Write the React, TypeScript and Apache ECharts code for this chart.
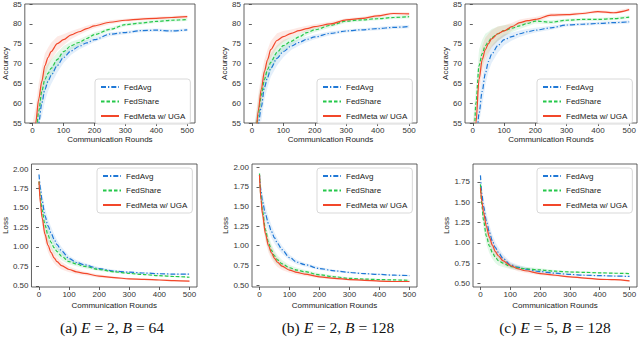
import React, { useEffect, useRef } from 'react';
import * as echarts from 'echarts';

const SERIES_NAMES = ['FedAvg', 'FedShare', 'FedMeta w/ UGA'];
const X_TICKS = [0, 100, 200, 300, 400, 500];
const ACC_TICKS = [55, 60, 65, 70, 75, 80, 85];
const LOSS_TICKS_AB = [0.5, 0.75, 1.0, 1.25, 1.5, 1.75, 2.0];
const LOSS_TICKS_C = [0.5, 0.75, 1.0, 1.25, 1.5, 1.75];
const CAPTIONS = [
  ['(a) ', 'E', ' = 2, ', 'B', ' = 64'],
  ['(b) ', 'E', ' = 2, ', 'B', ' = 128'],
  ['(c) ', 'E', ' = 5, ', 'B', ' = 128'],
];

// Rounds at which the curves were read
const X_ACC = [0, 10, 20, 30, 40, 50, 60, 80, 100, 125, 150, 175, 200, 250, 300, 350, 400, 450, 500];
const X_LOSS = [0, 5, 10, 20, 30, 40, 50, 60, 75, 100, 125, 150, 200, 250, 300, 350, 400, 450, 500];

// (a) E=2, B=64 accuracy
const ACC_A_AVG = [30, 47, 55, 60, 63.5, 65.5, 67, 69.5, 71.5, 73.2, 74.3, 75.2, 76, 77.4, 77.8, 78.3, 78.4, 78.2, 78.5];
const ACC_A_SHARE = [33, 51, 58, 63, 66, 67.5, 68.8, 71, 73, 74.5, 75.3, 76.3, 77.3, 78.6, 79.8, 80.2, 80.6, 80.9, 81.1];
const ACC_A_META = [35, 55, 61, 65.5, 69.5, 71.5, 73, 75, 76, 77.2, 78, 78.8, 79.5, 80.4, 80.9, 81.2, 81.4, 81.6, 81.8];
// (b) E=2, B=128 accuracy
const ACC_B_AVG = [28, 45, 54.5, 59, 64, 66.5, 68.8, 71.3, 73, 74.4, 75.3, 76.1, 76.7, 77.6, 78.2, 78.5, 78.8, 79.1, 79.3];
const ACC_B_SHARE = [30, 50, 57, 62, 66, 68.5, 70.3, 72.8, 74.5, 75.6, 76.7, 77.8, 78.5, 79.6, 80.7, 81, 81.3, 81.6, 81.8];
const ACC_B_META = [30, 48, 58, 63.5, 68, 71, 73.5, 75.8, 76.8, 77.6, 78.3, 78.8, 79.3, 80, 81, 81.4, 82, 82.6, 82.5];
// (c) E=5, B=128 accuracy
const ACC_C_AVG = [30, 48, 57.5, 63, 67.5, 70.5, 72.3, 74.5, 76, 76.8, 77.5, 78, 78.4, 79, 79.7, 79.9, 80.1, 80.3, 80.5];
const ACC_C_SHARE = [36, 60, 69.5, 72.5, 74.5, 75.5, 76.5, 77.5, 78.3, 78.9, 79.5, 80.1, 80.7, 80.4, 80.9, 81.1, 81.1, 81.3, 81.7];
const ACC_C_META = [32, 55, 66, 71, 73.5, 75, 76.2, 77.5, 78.2, 79.3, 80.3, 80.8, 81.1, 82.2, 82.3, 82.6, 83.1, 82.8, 83.6];

// (a) loss
const LOSS_A_AVG = [1.93, 1.75, 1.6, 1.4, 1.27, 1.18, 1.1, 1.03, 0.95, 0.85, 0.8, 0.77, 0.72, 0.69, 0.675, 0.665, 0.655, 0.65, 0.65];
const LOSS_A_SHARE = [1.84, 1.62, 1.48, 1.28, 1.15, 1.06, 0.99, 0.94, 0.88, 0.81, 0.78, 0.75, 0.71, 0.68, 0.66, 0.645, 0.63, 0.62, 0.61];
const LOSS_A_META = [1.84, 1.55, 1.38, 1.16, 1.02, 0.93, 0.86, 0.81, 0.76, 0.71, 0.68, 0.66, 0.625, 0.605, 0.59, 0.583, 0.575, 0.567, 0.56];
// (b) loss
const LOSS_B_AVG = [1.9, 1.7, 1.56, 1.4, 1.28, 1.18, 1.1, 1.03, 0.95, 0.85, 0.79, 0.76, 0.71, 0.68, 0.66, 0.645, 0.635, 0.625, 0.62];
const LOSS_B_SHARE = [1.92, 1.62, 1.44, 1.2, 1.04, 0.94, 0.87, 0.82, 0.77, 0.72, 0.69, 0.67, 0.63, 0.605, 0.585, 0.575, 0.57, 0.565, 0.56];
const LOSS_B_META = [1.9, 1.58, 1.4, 1.15, 1.0, 0.91, 0.84, 0.79, 0.74, 0.69, 0.66, 0.64, 0.605, 0.585, 0.57, 0.56, 0.55, 0.545, 0.545];
// (c) loss
const LOSS_C_AVG = [1.83, 1.6, 1.45, 1.27, 1.13, 1.02, 0.94, 0.88, 0.81, 0.73, 0.7, 0.675, 0.645, 0.625, 0.61, 0.6, 0.595, 0.59, 0.585];
const LOSS_C_SHARE = [1.72, 1.45, 1.28, 1.08, 0.96, 0.88, 0.82, 0.78, 0.75, 0.71, 0.69, 0.68, 0.665, 0.65, 0.64, 0.635, 0.63, 0.625, 0.62];
const LOSS_C_META = [1.68, 1.5, 1.38, 1.2, 1.07, 0.97, 0.89, 0.84, 0.78, 0.72, 0.68, 0.655, 0.62, 0.6, 0.58, 0.565, 0.55, 0.545, 0.53];

// half-width of the shaded spread around each curve
const ACC_SPREAD = [0, 4, 4, 3.5, 3, 2.5, 2.2, 1.8, 1.4, 1.0, 0.8, 0.7, 0.6, 0.5, 0.4, 0.4, 0.4, 0.4, 0.4];
const LOSS_SPREAD = [0.02, 0.08, 0.1, 0.1, 0.09, 0.08, 0.07, 0.06, 0.05, 0.035, 0.03, 0.025, 0.02, 0.015, 0.012, 0.01, 0.01, 0.01, 0.01];

const COLORS = ['#1f78d6', '#25c84a', '#f2472a'];
const DASHES: any[] = [[5, 2, 1.3, 2], [3.5, 2], 'solid'];
const FONT = 'Liberation Sans, Arial, sans-serif';

const GRIDS = [
  { left: 23, top: 3, width: 172, height: 120 },
  { left: 244, top: 3, width: 173, height: 120 },
  { left: 465, top: 3, width: 172, height: 120 },
  { left: 30, top: 164, width: 167, height: 123 },
  { left: 252, top: 164, width: 165, height: 123 },
  { left: 473, top: 164, width: 164, height: 123 },
];

const PANELS = [
  { x: X_ACC, ys: [ACC_A_AVG, ACC_A_SHARE, ACC_A_META], spread: ACC_SPREAD, min: 55, max: 85, ticks: ACC_TICKS, name: 'Accuracy', nameGap: 15, xNameGap: 12, legendTop: 79, acc: true },
  { x: X_ACC, ys: [ACC_B_AVG, ACC_B_SHARE, ACC_B_META], spread: ACC_SPREAD, min: 55, max: 85, ticks: ACC_TICKS, name: 'Accuracy', nameGap: 15, xNameGap: 12, legendTop: 79, acc: true },
  { x: X_ACC, ys: [ACC_C_AVG, ACC_C_SHARE, ACC_C_META], spread: ACC_SPREAD, min: 55, max: 85, ticks: ACC_TICKS, name: 'Accuracy', nameGap: 15, xNameGap: 12, legendTop: 79, acc: true },
  { x: X_LOSS, ys: [LOSS_A_AVG, LOSS_A_SHARE, LOSS_A_META], spread: LOSS_SPREAD, min: 0.485, max: 2.065, ticks: LOSS_TICKS_AB, name: 'Loss', nameGap: 21, xNameGap: 14, legendTop: 168, acc: false },
  { x: X_LOSS, ys: [LOSS_B_AVG, LOSS_B_SHARE, LOSS_B_META], spread: LOSS_SPREAD, min: 0.475, max: 2.04, ticks: LOSS_TICKS_AB, name: 'Loss', nameGap: 21, xNameGap: 14, legendTop: 168, acc: false },
  { x: X_LOSS, ys: [LOSS_C_AVG, LOSS_C_SHARE, LOSS_C_META], spread: LOSS_SPREAD, min: 0.455, max: 1.97, ticks: LOSS_TICKS_C, name: 'Loss', nameGap: 21, xNameGap: 14, legendTop: 168, acc: false },
];

function buildOption() {
  const grid: any[] = [];
  const xAxis: any[] = [];
  const yAxis: any[] = [];
  const series: any[] = [];
  const legend: any[] = [];
  const axisColor = '#3a3a3a';

  PANELS.forEach((p, i) => {
    const g = GRIDS[i];
    grid.push({ ...g, show: true, borderColor: axisColor, borderWidth: 0.8, backgroundColor: 'transparent', containLabel: false });
    xAxis.push({
      type: 'value', gridIndex: i, min: -25, max: 525,
      name: 'Communication Rounds', nameLocation: 'middle', nameGap: p.xNameGap,
      nameTextStyle: { fontSize: 8, color: '#222', fontFamily: FONT },
      axisLine: { show: false },
      axisTick: { show: true, length: 3, customValues: X_TICKS, lineStyle: { color: axisColor, width: 0.8 } },
      axisLabel: { show: true, customValues: X_TICKS, fontSize: 8, color: '#333', fontFamily: FONT, margin: 3 },
      splitLine: { show: false },
    });
    yAxis.push({
      type: 'value', gridIndex: i, min: p.min, max: p.max,
      name: p.name, nameLocation: 'middle', nameGap: p.nameGap, nameRotate: 90,
      nameTextStyle: { fontSize: 8, color: '#222', fontFamily: FONT },
      axisLine: { show: false },
      axisTick: { show: true, length: 3, customValues: p.ticks, lineStyle: { color: axisColor, width: 0.8 } },
      axisLabel: {
        show: true, customValues: p.ticks, fontSize: 8, color: '#333', fontFamily: FONT, margin: 3,
        formatter: (v: number) => (p.acc ? String(v) : v.toFixed(2)),
      },
      splitLine: { show: false },
    });

    // shaded spreads (polygon through the axis scales)
    p.ys.forEach((ys, k) => {
      const clampY = (v: number) => Math.max(p.min, Math.min(p.max, v));
      series.push({
        type: 'custom', name: `spread-${i}-${k}`, xAxisIndex: i, yAxisIndex: i,
        silent: true, clip: true, z: 1,
        data: [[p.x[0], clampY(ys[0])]],
        renderItem: (_params: any, api: any) => {
          const pts: number[][] = [];
          for (let j = 0; j < p.x.length; j++) pts.push(api.coord([p.x[j], clampY(ys[j] + p.spread[j])]));
          for (let j = p.x.length - 1; j >= 0; j--) pts.push(api.coord([p.x[j], clampY(ys[j] - p.spread[j])]));
          return { type: 'polygon', shape: { points: pts }, style: { fill: COLORS[k], opacity: 0.12 } };
        },
      });
    });
    // main curves
    p.ys.forEach((ys, k) => {
      series.push({
        type: 'line', name: SERIES_NAMES[k], xAxisIndex: i, yAxisIndex: i,
        data: p.x.map((x, j) => [x, ys[j]]),
        showSymbol: false, symbol: 'none', smooth: 0.3, smoothMonotone: 'x',
        lineStyle: { color: COLORS[k], width: 1.2, type: DASHES[k] },
        itemStyle: { color: COLORS[k] },
        z: 3 + k,
      });
    });

    legend.push({
      data: SERIES_NAMES, orient: 'vertical',
      left: g.left + g.width - 3 - 97, top: p.legendTop,
      itemWidth: 18, itemHeight: 8, itemGap: 6.5, padding: [4, 5],
      backgroundColor: 'rgba(255,255,255,0.85)', borderColor: '#cfcfcf', borderWidth: 0.8, borderRadius: 3,
      textStyle: { fontSize: 8, color: '#222', fontFamily: FONT },
      itemStyle: { opacity: 0 },
      selectedMode: false,
    });
  });

  const capX = [112, 338, 555];
  const graphic = CAPTIONS.map((c, i) => ({
    type: 'text', x: capX[i], y: 327,
    style: {
      text: `{n|${c[0]}}{i|${c[1]}}{n|${c[2]}}{i|${c[3]}}{n|${c[4]}}`,
      align: 'center', verticalAlign: 'middle',
      rich: {
        n: { fontSize: 15.5, fontFamily: 'Liberation Serif, Times New Roman, serif', fill: '#111' },
        i: { fontSize: 15.5, fontStyle: 'italic', fontFamily: 'Liberation Serif, Times New Roman, serif', fill: '#111' },
      },
    },
  }));

  return { animation: false, backgroundColor: '#fff', grid, xAxis, yAxis, series, legend, graphic };
}

export default function App() {
  const ref = useRef<HTMLDivElement>(null);
  useEffect(() => {
    if (!ref.current) return;
    const chart = echarts.init(ref.current, undefined, { renderer: 'svg' });
    chart.setOption(buildOption() as any);
    return () => chart.dispose();
  }, []);
  return <div ref={ref} style={{ position: 'absolute', left: 0, top: 0, width: 640, height: 343 }} />;
}
